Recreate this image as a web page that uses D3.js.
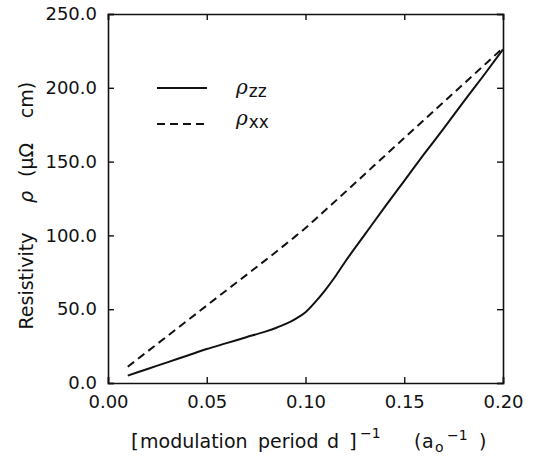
<!DOCTYPE html>
<html><head><meta charset="utf-8">
<script src="https://cdn.jsdelivr.net/npm/d3@7/dist/d3.min.js"></script>
<style>body{margin:0;background:#fff}svg{display:block}text{font-family:"DejaVu Sans",sans-serif;fill:#111}</style>
</head><body><svg id="c" width="534" height="459"></svg>
<script>
const xTicks = [0.00, 0.05, 0.10, 0.15, 0.20];
const yTicks = [0, 50, 100, 150, 200, 250];
const zzX = [0.01,0.02,0.03,0.04,0.05,0.06,0.07,0.08,0.085,0.09,0.095,0.10,0.105,0.11,0.115,0.12,0.13,0.14,0.15,0.16,0.17,0.18,0.19,0.20];
const zzY = [5,9.5,14,18.5,23,27,31,35,37.3,40,43.5,48,55,63,72,82,100.5,119,137,155,172.5,190.5,208,226];
const xxX = [0.01,0.05,0.095,0.10,0.105,0.15,0.20];
const xxY = [11,52.5,99.5,105,111,166,227];
const legendLabels = ["zz","xx"];

const svg = d3.select("#c");
const L=108,R=503,T=14,B=383;
const x = d3.scaleLinear().domain([0,0.2]).range([L,R]);
const y = d3.scaleLinear().domain([0,250]).range([B,T]);

const fs = 18;
svg.append("g").attr("transform",`translate(0,${B})`)
  .call(d3.axisBottom(x).tickValues(xTicks).tickSize(-6).tickPadding(12).tickFormat(d3.format(".2f")))
  .call(g=>{g.selectAll("text").attr("font-size",fs).attr("font-family","DejaVu Sans");});
svg.append("g").attr("transform",`translate(0,${T})`)
  .call(d3.axisTop(x).tickValues(xTicks).tickSize(-6).tickFormat(""));
svg.append("g").attr("transform",`translate(${L},0)`)
  .call(d3.axisLeft(y).tickValues(yTicks).tickSize(-6).tickPadding(11).tickFormat(d3.format(".1f")))
  .call(g=>{g.selectAll("text").attr("font-size",fs).attr("font-family","DejaVu Sans");});
svg.append("g").attr("transform",`translate(${R},0)`)
  .call(d3.axisRight(y).tickValues(yTicks).tickSize(-6).tickFormat(""));
svg.selectAll(".domain").attr("stroke","#111").attr("stroke-width",1.6);
svg.selectAll(".tick line").attr("stroke","#111").attr("stroke-width",1.4);
svg.selectAll(".tick text").attr("fill","#111");

const line = d3.line().x(d=>x(d[0])).y(d=>y(d[1])).curve(d3.curveMonotoneX);
svg.append("path").datum(zzX.map((v,i)=>[v,zzY[i]])).attr("d",line)
  .attr("fill","none").attr("stroke","#111").attr("stroke-width",2);
svg.append("path").datum(xxX.map((v,i)=>[v,xxY[i]])).attr("d",line)
  .attr("fill","none").attr("stroke","#111").attr("stroke-width",2).attr("stroke-dasharray","8,5");

// legend
const lg = svg.append("g");
[[88,"none"],[124,"8,5"]].forEach((s,i)=>{
  lg.append("line").attr("x1",157).attr("x2",207).attr("y1",s[0]).attr("y2",s[0])
    .attr("stroke","#111").attr("stroke-width",1.8).attr("stroke-dasharray",s[1]);
  const t = lg.append("text").attr("x",236).attr("y",s[0]+(i?1:6)).attr("font-size",20);
  t.append("tspan").text("ρ").attr("font-style","italic").attr("font-family","DejaVu Serif");
  t.append("tspan").text(legendLabels[i]).attr("font-size",17).attr("dy",3).attr("dx",1);
});

// y label
const yl = (txt,cy)=>svg.append("text").attr("transform",`translate(33,${cy}) rotate(-90)`)
  .attr("text-anchor","middle").attr("font-size",19).text(txt);
yl("Resistivity",281);
yl("ρ",197).attr("font-style","italic").attr("font-family","DejaVu Serif");
yl("(μΩ",160);
yl("cm)",100);

// x label
const xs = 448;
const xt = (txt,xp,fsz,dy)=>svg.append("text").attr("x",xp).attr("y",xs+(dy||0)).attr("font-size",fsz||19).text(txt);
xt("[",131).attr("font-size",20);
xt("modulation",140);
xt("period",258);
xt("d",327);
xt("]",349).attr("font-size",20);
xt("−1",360,14,-10);
xt("(",414);
xt("a",422);
xt("o",435,14,4);
xt("−1",447,14,-8);
xt(")",479);
</script></body></html>
